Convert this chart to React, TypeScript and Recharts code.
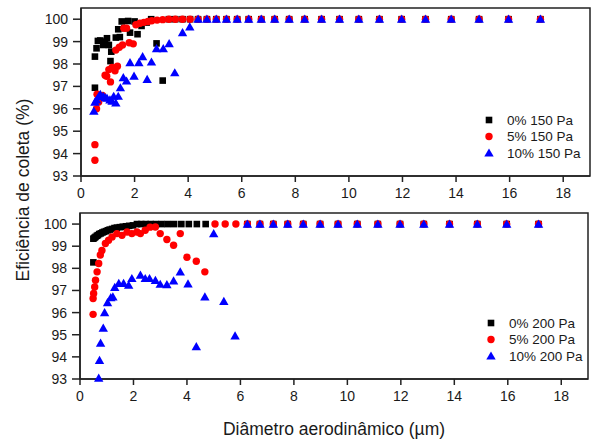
import React from "react";
import {
  ScatterChart,
  Scatter,
  XAxis,
  YAxis,
  ReferenceArea,
} from "recharts";

// x axis: aerodynamic diameter (µm), y axis: collection efficiency (%)
const xTicks = [0, 2, 4, 6, 8, 10, 12, 14, 16, 18];
const yTicks = [93, 94, 95, 96, 97, 98, 99, 100];

// APS channels where every series sits at 100 %
const tailX = [4.37, 4.7, 5.05, 5.43, 5.83, 6.26, 6.73, 7.23, 7.77, 8.35, 8.98, 9.65, 10.37, 11.14, 11.97, 12.86, 13.82, 14.86, 15.96, 17.15];
const tailY = [100, 100, 100, 100, 100, 100, 100, 100, 100, 100, 100, 100, 100, 100, 100, 100, 100, 100, 100, 100];
const tailX200 = [6.26, 6.73, 7.23, 7.77, 8.35, 8.98, 9.65, 10.37, 11.14, 11.97, 12.86, 13.82, 14.86, 15.96, 17.15];
const tailY200 = [100, 100, 100, 100, 100, 100, 100, 100, 100, 100, 100, 100, 100, 100, 100];

// 150 Pa
const x0_150 = [0.52, 0.52, 0.58, 0.63, 0.72, 0.83, 0.9, 0.97, 1.04, 1.1, 1.13, 1.3, 1.39, 1.45, 1.52, 1.62, 1.76, 1.83, 2.0, 2.11, 2.26, 2.45, 2.62, 2.82, 3.05, 3.28, 3.52, 3.79, 4.07];
const y0_150 = [96.94, 98.33, 98.7, 99.03, 99.05, 98.85, 99.0, 99.15, 98.85, 98.13, 98.55, 99.18, 99.55, 99.2, 99.9, 99.6, 99.92, 99.4, 99.9, 99.33, 99.7, 99.85, 100, 98.92, 97.26, 100, 100, 100, 100];

const x5_150 = [0.52, 0.52, 0.58, 0.6, 0.66, 0.72, 0.8, 0.9, 0.96, 1.04, 1.1, 1.16, 1.27, 1.36, 1.3, 1.43, 1.55, 1.8, 1.95, 1.6, 1.7, 2.05, 2.2, 2.35, 2.5, 2.64, 2.84, 3.05, 3.28, 3.52, 3.79, 4.07];
const y5_150 = [93.7, 94.4, 96.0, 96.65, 96.3, 96.5, 96.6, 97.5, 97.45, 97.75, 97.2, 97.85, 97.7, 97.9, 98.62, 98.75, 98.85, 98.95, 98.9, 99.6, 99.6, 99.75, 99.82, 99.86, 99.9, 99.93, 99.96, 99.98, 100, 100, 100, 100];

const x10_150 = [0.48, 0.52, 0.58, 0.66, 0.72, 0.83, 0.9, 0.97, 1.08, 1.16, 1.22, 1.3, 1.39, 1.47, 1.58, 1.7, 1.83, 1.98, 2.16, 2.3, 2.47, 2.63, 2.82, 3.07, 3.29, 3.5, 3.79, 4.06];
const y10_150 = [95.9, 96.3, 96.4, 96.55, 96.64, 96.56, 96.5, 96.48, 96.4, 96.34, 96.56, 96.26, 96.56, 96.94, 97.39, 97.24, 98.06, 97.46, 98.06, 98.33, 97.31, 98.09, 98.69, 98.69, 98.91, 97.61, 99.4, 99.66];

// 200 Pa
const x0_200 = [0.5, 0.5, 0.54, 0.58, 0.63, 0.67, 0.72, 0.78, 0.84, 0.9, 0.97, 1.04, 1.11, 1.2, 1.29, 1.38, 1.49, 1.6, 1.72, 1.84, 1.98, 2.13, 2.29, 2.46, 2.64, 2.84, 3.05, 3.28, 3.52, 3.79, 4.07, 4.37, 4.7];
const y0_200 = [98.27, 99.34, 99.38, 99.42, 99.47, 99.5, 99.55, 99.58, 99.62, 99.65, 99.68, 99.72, 99.75, 99.78, 99.82, 99.84, 99.86, 99.88, 99.9, 99.92, 99.94, 100, 100, 100, 100, 100, 100, 100, 100, 100, 100, 100, 100];

const x5_200 = [0.49, 0.49, 0.51, 0.55, 0.58, 0.64, 0.7, 0.76, 0.82, 0.95, 1.07, 1.2, 1.38, 1.57, 1.76, 1.94, 2.13, 2.26, 2.44, 2.62, 2.82, 3.0, 3.25, 3.5, 3.75, 4.0, 4.35, 4.67, 5.05, 5.43, 5.83];
const y5_200 = [95.92, 96.64, 96.86, 97.16, 97.46, 97.84, 98.22, 98.6, 98.81, 99.12, 99.27, 99.42, 99.57, 99.49, 99.64, 99.57, 99.64, 99.57, 99.72, 99.86, 99.87, 99.57, 99.3, 99.04, 99.57, 98.5, 98.32, 97.84, 100, 100, 100];

const x10_200 = [0.7, 0.73, 0.77, 0.87, 0.92, 1.03, 1.15, 1.23, 1.3, 1.45, 1.63, 1.82, 1.94, 2.26, 2.44, 2.6, 2.82, 3.0, 3.25, 3.5, 3.75, 4.04, 4.35, 4.67, 5.0, 5.38, 5.8];
const y10_200 = [93.04, 93.84, 94.62, 95.3, 96.0, 96.45, 96.68, 96.71, 97.14, 97.32, 97.32, 97.24, 97.54, 97.69, 97.54, 97.54, 97.46, 97.28, 97.26, 97.43, 97.84, 97.3, 94.46, 96.71, 99.57, 96.51, 94.95];

const labels150 = ["0% 150 Pa", "5% 150 Pa", "10% 150 Pa"];
const labels200 = ["0% 200 Pa", "5% 200 Pa", "10% 200 Pa"];

const BLACK = "#000000";
const RED = "#ff0000";
const BLUE = "#0000ff";
const AXIS = "#222222";
const FONT = "'Liberation Sans', Arial, sans-serif";

const pts = (xs: number[], ys: number[]) => xs.map((x, i) => ({ x, y: ys[i] }));

const SquareDot = (p: any) => <rect x={p.cx - 3.3} y={p.cy - 3.3} width={6.6} height={6.6} fill={BLACK} />;
const CircleDot = (p: any) => <circle cx={p.cx} cy={p.cy} r={3.7} fill={RED} />;
const TriangleDot = (p: any) => (
  <polygon
    points={`${p.cx},${p.cy - 4.6} ${p.cx + 4.7},${p.cy + 3.6} ${p.cx - 4.7},${p.cy + 3.6}`}
    fill={BLUE}
  />
);

function LegendBox({ labels, left, top }: { labels: string[]; left: number; top: number }) {
  const rows = [0, 16.5, 33];
  return (
    <svg width={110} height={48} style={{ position: "absolute", left, top }}>
      {labels.map((t, i) => {
        const cy = 8 + rows[i];
        return (
          <g key={t}>
            {i === 0 && <rect x={3.7} y={cy - 3.3} width={6.6} height={6.6} fill={BLACK} />}
            {i === 1 && <circle cx={7} cy={cy} r={3.7} fill={RED} />}
            {i === 2 && (
              <polygon points={`7,${cy - 4.6} 11.7,${cy + 3.6} 2.3,${cy + 3.6}`} fill={BLUE} />
            )}
            <text x={25} y={cy + 4.8} fontSize={13.5} fontFamily={FONT} fill="#1a1a1a">
              {t}
            </text>
          </g>
        );
      })}
    </svg>
  );
}

interface PanelProps {
  height: number;
  margin: { top: number; right: number; bottom: number; left: number };
  yWidth: number;
  xHeight: number;
  s0: { x: number; y: number }[];
  s5: { x: number; y: number }[];
  s10: { x: number; y: number }[];
  xLabel?: string;
}

function Panel({ height, margin, yWidth, xHeight, s0, s5, s10, xLabel }: PanelProps) {
  const tickStyle = { fontSize: 14, fontFamily: FONT, fill: "#1a1a1a" };
  return (
    <ScatterChart width={592} height={height} margin={margin}>
      <XAxis
        type="number"
        dataKey="x"
        domain={[0, 19]}
        ticks={xTicks}
        interval={0}
        tick={tickStyle}
        tickSize={6}
        tickMargin={6}
        height={xHeight}
        axisLine={{ stroke: AXIS, strokeWidth: 1.5 }}
        tickLine={{ stroke: AXIS, strokeWidth: 1.5 }}
        label={
          xLabel
            ? { value: xLabel, position: "insideBottom", offset: 6, fontSize: 17.5, fontFamily: FONT, fill: "#1a1a1a" }
            : undefined
        }
      />
      <YAxis
        type="number"
        dataKey="y"
        domain={[93, 100.5]}
        ticks={yTicks}
        interval={0}
        tick={tickStyle}
        tickSize={8}
        tickMargin={5}
        width={yWidth}
        axisLine={{ stroke: AXIS, strokeWidth: 1.5 }}
        tickLine={{ stroke: AXIS, strokeWidth: 1.5 }}
      />
      {/* plot frame */}
      <ReferenceArea x1={0} x2={19} y1={93} y2={100.5} fill="none" stroke={AXIS} strokeWidth={1.5} />
      <Scatter data={s0} shape={SquareDot} isAnimationActive={false} />
      <Scatter data={s5} shape={CircleDot} isAnimationActive={false} />
      <Scatter data={s10} shape={TriangleDot} isAnimationActive={false} />
    </ScatterChart>
  );
}

export default function App() {
  return (
    <div style={{ position: "absolute", left: 0, top: 0, width: 592, height: 441, background: "#fff" }}>
      <div style={{ position: "absolute", left: 0, top: 0 }}>
        <Panel
          height={200}
          margin={{ top: 8, right: 2, bottom: 0, left: 0 }}
          yWidth={81}
          xHeight={24}
          s0={[...pts(x0_150, y0_150), ...pts(tailX, tailY)]}
          s5={[...pts(x5_150, y5_150), ...pts(tailX, tailY)]}
          s10={[...pts(x10_150, y10_150), ...pts(tailX, tailY)]}
        />
      </div>
      <div style={{ position: "absolute", left: 0, top: 200 }}>
        <Panel
          height={241}
          margin={{ top: 13, right: 4, bottom: 0, left: 0 }}
          yWidth={80}
          xHeight={62}
          s0={[...pts(x0_200, y0_200), ...pts(tailX200, tailY200)]}
          s5={[...pts(x5_200, y5_200), ...pts(tailX200, tailY200)]}
          s10={[...pts(x10_200, y10_200), ...pts(tailX200, tailY200)]}
          xLabel="Diâmetro aerodinâmico (µm)"
        />
      </div>
      <LegendBox labels={labels150} left={482} top={112} />
      <LegendBox labels={labels200} left={484} top={315} />
      <svg width={40} height={441} style={{ position: "absolute", left: 0, top: 0 }}>
        <text
          transform="translate(29,190) rotate(-90)"
          textAnchor="middle"
          fontSize={17.5}
          fontFamily={FONT}
          fill="#1a1a1a"
        >
          Eficiência de coleta (%)
        </text>
      </svg>
    </div>
  );
}
